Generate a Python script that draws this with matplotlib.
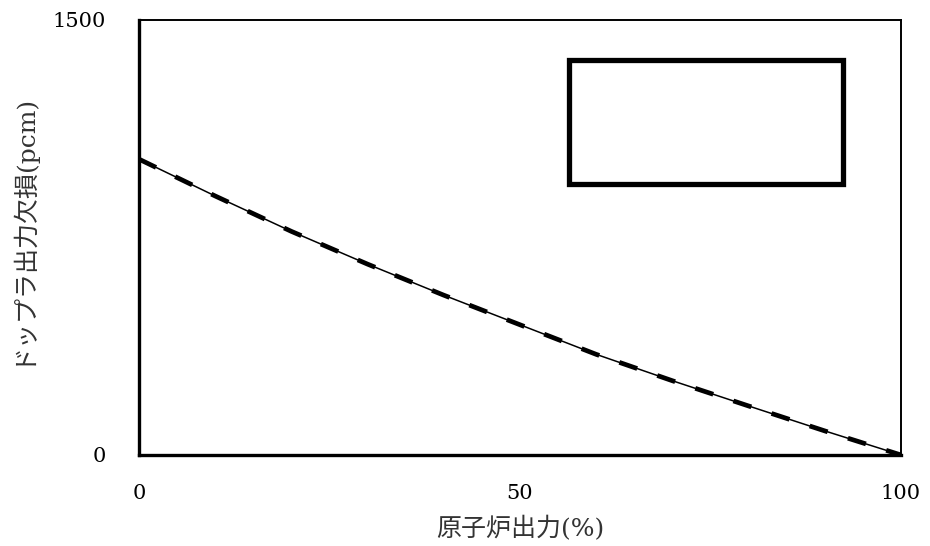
import matplotlib
matplotlib.use("Agg")
import matplotlib.pyplot as plt
from matplotlib.patches import Rectangle

# reactor power (%) and doppler power defect (pcm)
power = [0, 10, 20, 30, 40, 50, 60, 70, 80, 90, 100]
defect = [1020, 893, 771, 658, 551, 449, 347, 256, 169, 83, 0]

x_ticks = [0, 50, 100]
y_ticks = [0, 1500]

FONT = ["DejaVu Serif", "Noto Sans CJK JP"]

fig = plt.figure(figsize=(9.3, 5.46), dpi=100)
ax = fig.add_axes([0.1495, 0.1667, 0.8193, 0.7967])

ax.plot(power, defect, color="black", lw=1.1, zorder=3)
ax.plot(power, defect, color="black", lw=3.4, dashes=(4, 4.5), zorder=2)

# blank legend box
ax.add_patch(Rectangle((56.4, 935), 36.0, 428, fill=False, ec="black", lw=3.8, zorder=4))

ax.set_xlim(0, 100)
ax.set_ylim(0, 1500)
ax.set_xticks(x_ticks)
ax.set_yticks(y_ticks)
ax.tick_params(length=0, labelsize=15)
ax.tick_params(axis="x", pad=21)
ax.tick_params(axis="y", pad=24)
for lab in ax.get_xticklabels() + ax.get_yticklabels():
    lab.set_family(FONT)

for side in ("left", "bottom"):
    ax.spines[side].set_linewidth(2.4)
for side in ("top", "right"):
    ax.spines[side].set_linewidth(1.4)

ax.set_xlabel("原子炉出力(%)", family=FONT, fontsize=18, color="#333333", labelpad=9)
ax.set_ylabel("ドップラ出力欠損(pcm)", family=FONT, fontsize=18, color="#333333")
ax.yaxis.set_label_coords(-0.138, 0.52)

fig.savefig("out.png", dpi=100)
